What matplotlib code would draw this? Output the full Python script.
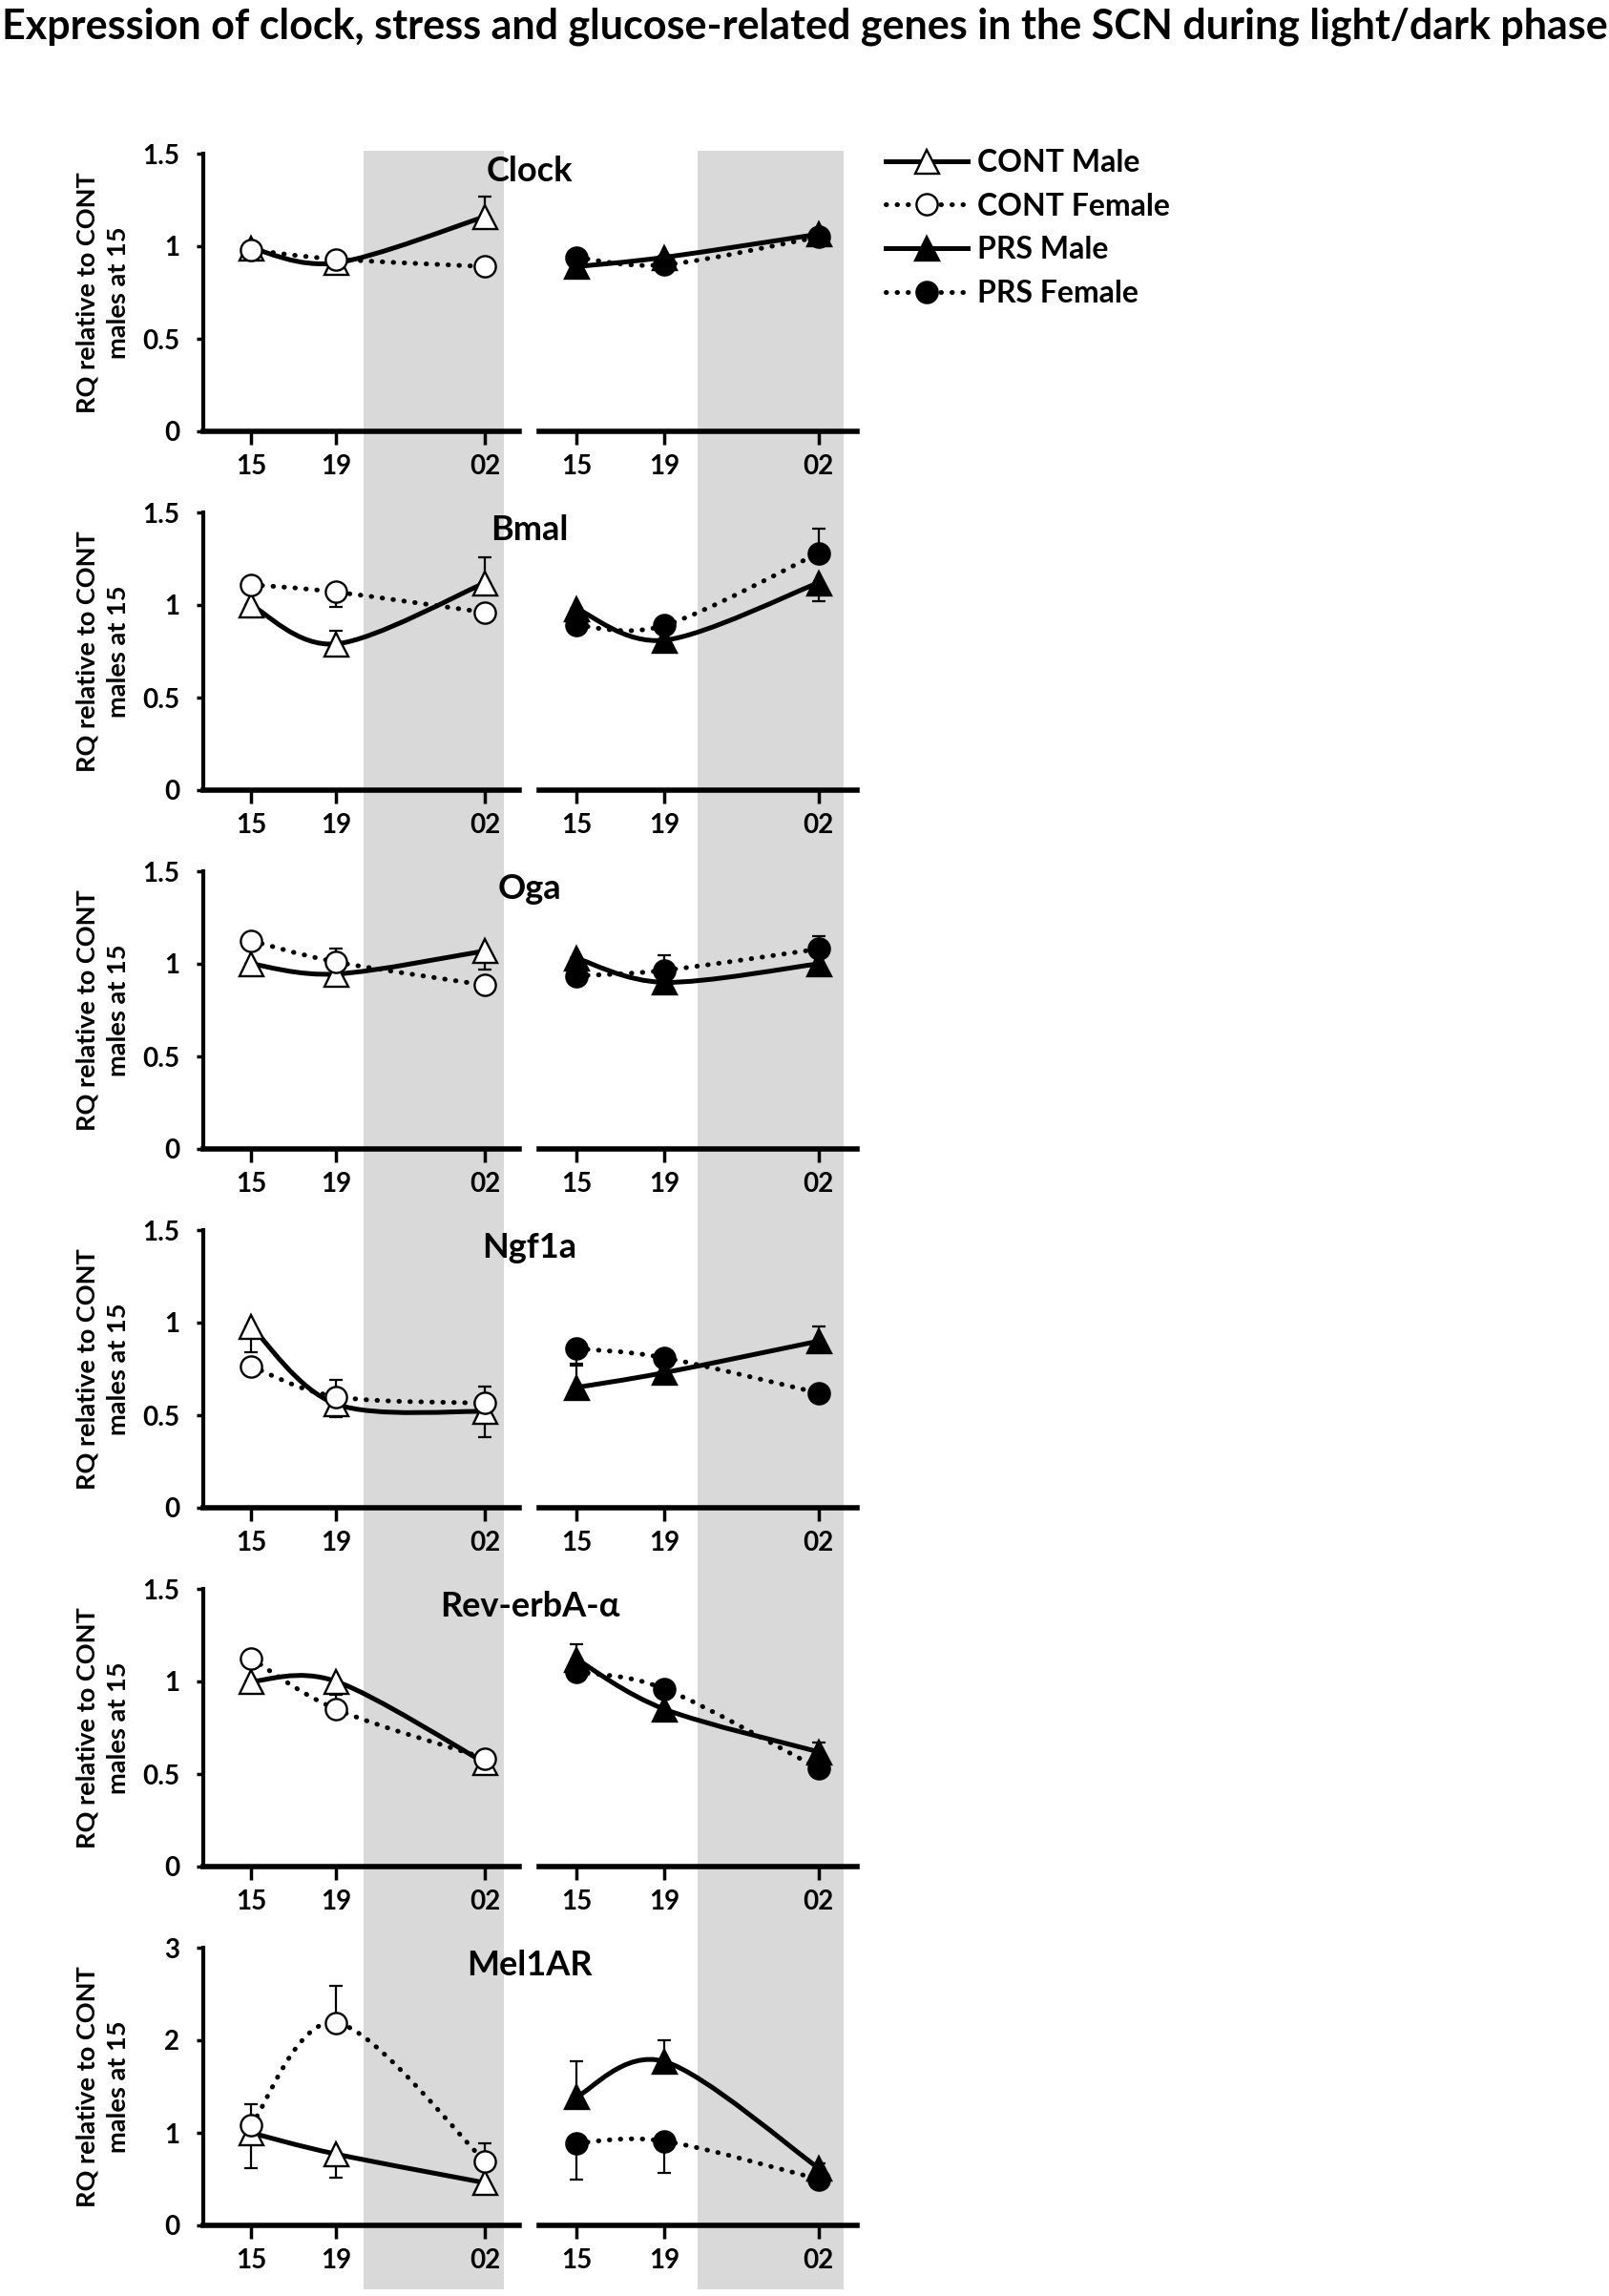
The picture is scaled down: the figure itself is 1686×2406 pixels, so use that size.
import numpy as np
import matplotlib
matplotlib.use("Agg")
import matplotlib.pyplot as plt
from matplotlib.path import Path
from matplotlib.patches import PathPatch, Rectangle
from matplotlib.lines import Line2D
from matplotlib.transforms import blended_transform_factory

# ---- data ----
TIMES = [15, 19, 26]
TIME_LABELS = ["15", "19", "02"]
GENES = ["Clock", "Bmal", "Oga", "Ngf1a", "Rev-erbA-\u03b1", "Mel1AR"]

CONT_MALE = {
    "Clock": [0.99, 0.91, 1.16],
    "Bmal": [1.00, 0.79, 1.12],
    "Oga": [1.00, 0.945, 1.07],
    "Ngf1a": [0.98, 0.56, 0.52],
    "Rev-erbA-\u03b1": [1.00, 1.00, 0.56],
    "Mel1AR": [1.00, 0.77, 0.46],
}
CONT_FEMALE = {
    "Clock": [0.98, 0.93, 0.89],
    "Bmal": [1.11, 1.07, 0.96],
    "Oga": [1.125, 1.01, 0.885],
    "Ngf1a": [0.765, 0.60, 0.565],
    "Rev-erbA-\u03b1": [1.125, 0.85, 0.585],
    "Mel1AR": [1.08, 2.19, 0.69],
}
PRS_MALE = {
    "Clock": [0.89, 0.94, 1.065],
    "Bmal": [0.98, 0.81, 1.12],
    "Oga": [1.03, 0.90, 1.00],
    "Ngf1a": [0.65, 0.73, 0.90],
    "Rev-erbA-\u03b1": [1.12, 0.85, 0.62],
    "Mel1AR": [1.39, 1.77, 0.62],
}
PRS_FEMALE = {
    "Clock": [0.94, 0.90, 1.05],
    "Bmal": [0.89, 0.89, 1.28],
    "Oga": [0.935, 0.965, 1.08],
    "Ngf1a": [0.86, 0.81, 0.62],
    "Rev-erbA-\u03b1": [1.05, 0.96, 0.53],
    "Mel1AR": [0.89, 0.91, 0.50],
}
# one-sided error bars: positive = drawn upward, negative = drawn downward
CONT_MALE_ERR = {
    "Clock": [0, 0, 0.11],
    "Bmal": [0, 0.07, 0.14],
    "Oga": [0, 0, -0.10],
    "Ngf1a": [-0.14, -0.07, -0.14],
    "Rev-erbA-\u03b1": [0, 0, 0],
    "Mel1AR": [-0.38, -0.25, 0],
}
CONT_FEMALE_ERR = {
    "Clock": [0, 0, 0],
    "Bmal": [0, -0.08, -0.05],
    "Oga": [0, 0.07, 0],
    "Ngf1a": [0, 0.09, 0.09],
    "Rev-erbA-\u03b1": [0, 0.08, 0],
    "Mel1AR": [0.23, 0.40, 0.20],
}
PRS_MALE_ERR = {
    "Clock": [0, 0, 0],
    "Bmal": [0, 0, -0.10],
    "Oga": [0, 0, 0],
    "Ngf1a": [0.12, 0, 0.08],
    "Rev-erbA-\u03b1": [0.08, 0, 0.05],
    "Mel1AR": [0.38, 0.23, 0.05],
}
PRS_FEMALE_ERR = {
    "Clock": [0, 0, 0],
    "Bmal": [0, 0, 0.13],
    "Oga": [0, 0.08, 0.07],
    "Ngf1a": [-0.08, 0, 0],
    "Rev-erbA-\u03b1": [0, 0, 0],
    "Mel1AR": [-0.39, -0.34, 0],
}

TITLE = "Expression of clock, stress and glucose-related genes in the SCN during light/dark phase"
YLABEL = "RQ relative to CONT\nmales at 15"
LEGEND_LABELS = ["CONT Male", "CONT Female", "PRS Male", "PRS Female"]
DARK_L = (20.3, 26.9)
DARK_R = (20.5, 27.15)

# ---- layout (pixels of the 1686x2406 canvas) ----
W, H = 1686, 2406
ROW_TOP, ROW_STEP, ROW_H = 161, 376, 291
LX0, LX1 = 213, 544
RX0, RX1 = 565, 898
XLIM_L = (12.75, 27.6)
XLIM_R = (13.3, 27.75)

FONT = "Lato"
LW = 3.6
DOTS = (0, (0.1, 2.2))

STYLES = [
    dict(ls="-", marker="^", mfc="white", ms=18),   # CONT male
    dict(ls=DOTS, marker="o", mfc="white", ms=16),  # CONT female
    dict(ls="-", marker="^", mfc="black", ms=18),   # PRS male
    dict(ls=DOTS, marker="o", mfc="black", ms=16),  # PRS female
]


def smooth_path(xs, ys):
    # Excel-style smoothed line: cubic Bezier through the points
    pts = np.column_stack([xs, ys]).astype(float)
    n = len(pts)
    verts = [pts[0]]
    codes = [Path.MOVETO]
    for i in range(n - 1):
        p0 = pts[max(i - 1, 0)]
        p1 = pts[i]
        p2 = pts[i + 1]
        p3 = pts[min(i + 2, n - 1)]
        verts += [p1 + (p2 - p0) / 6, p2 - (p3 - p1) / 6, p2]
        codes += [Path.CURVE4] * 3
    return Path(verts, codes)


def draw_series(ax, ys, errs, style):
    patch = PathPatch(smooth_path(TIMES, ys), fill=False, edgecolor="black",
                      lw=LW, ls=style["ls"], capstyle="round", zorder=3)
    patch.set_clip_on(False)
    ax.add_patch(patch)
    lo = [-e if e < 0 else 0 for e in errs]
    hi = [e if e > 0 else 0 for e in errs]
    ax.errorbar(TIMES, ys, yerr=[lo, hi], fmt="none", ecolor="black",
                elinewidth=1.6, capsize=5, capthick=1.6, zorder=2, clip_on=False)
    ax.plot(TIMES, ys, ls="none", marker=style["marker"], ms=style["ms"],
            mfc=style["mfc"], mec="black", mew=1.7, zorder=4, clip_on=False)


def style_axis(ax, xlim, ylim, yticks, left):
    ax.set_facecolor("none")
    ax.set_xlim(*xlim)
    ax.set_ylim(*ylim)
    for s in ["top", "right"]:
        ax.spines[s].set_visible(False)
    ax.spines["bottom"].set_linewidth(4)
    ax.spines["left"].set_linewidth(3)
    ax.set_xticks(TIMES)
    ax.set_xticklabels(TIME_LABELS)
    ax.tick_params(axis="x", length=10, width=2.5, pad=7, labelsize=20)
    if left:
        ax.set_yticks(yticks)
        ax.set_yticklabels([f"{t:g}" for t in yticks])
        ax.tick_params(axis="y", length=5, width=2.5, pad=13, labelsize=20)
    else:
        ax.spines["left"].set_visible(False)
        ax.set_yticks([])
    for lab in ax.get_xticklabels() + ax.get_yticklabels():
        lab.set_fontfamily(FONT)
        lab.set_fontweight("bold")


fig = plt.figure(figsize=(W / 100, H / 100), dpi=100)
fig.patch.set_facecolor("white")

fig.text(0.5, 1 - 28 / H, TITLE, ha="center", va="center",
         fontfamily=FONT, fontweight="bold", fontsize=31)

panels = []
for i, gene in enumerate(GENES):
    top = ROW_TOP + i * ROW_STEP
    bottom = 1 - (top + ROW_H) / H
    axL = fig.add_axes([LX0 / W, bottom, (LX1 - LX0) / W, ROW_H / H])
    axR = fig.add_axes([RX0 / W, bottom, (RX1 - RX0) / W, ROW_H / H])
    ymax = 3 if gene == "Mel1AR" else 1.5
    yticks = [0, 1, 2, 3] if gene == "Mel1AR" else [0, 0.5, 1, 1.5]
    style_axis(axL, XLIM_L, (0, ymax), yticks, True)
    style_axis(axR, XLIM_R, (0, ymax), yticks, False)

    draw_series(axL, CONT_MALE[gene], CONT_MALE_ERR[gene], STYLES[0])
    draw_series(axL, CONT_FEMALE[gene], CONT_FEMALE_ERR[gene], STYLES[1])
    draw_series(axR, PRS_MALE[gene], PRS_MALE_ERR[gene], STYLES[2])
    draw_series(axR, PRS_FEMALE[gene], PRS_FEMALE_ERR[gene], STYLES[3])

    fig.text(555 / W, 1 - (top + 18) / H, gene, ha="center", va="center",
             fontfamily=FONT, fontweight="bold", fontsize=26)
    fig.text(108 / W, bottom + ROW_H / H / 2, YLABEL, rotation=90, ha="center",
             va="center", multialignment="center", fontfamily=FONT,
             fontweight="bold", fontsize=19.5, linespacing=1.45)
    panels.append((axL, axR))

# dark-phase shading running down the whole column of panels
band_top, band_bot = 158, 2399
for ax, dark in [(panels[-1][0], DARK_L), (panels[-1][1], DARK_R)]:
    tr = blended_transform_factory(ax.transData, fig.transFigure)
    rect = Rectangle((dark[0], 1 - band_bot / H), dark[1] - dark[0],
                     (band_bot - band_top) / H, transform=tr,
                     facecolor="#d9d9d9", edgecolor="none", zorder=-1)
    fig.add_artist(rect)

handles = [
    Line2D([], [], color="black", lw=LW, ls=s["ls"], marker=s["marker"],
           ms=s["ms"], mfc=s["mfc"], mec="black", mew=1.7,
           dash_capstyle="round")
    for s in STYLES
]
fig.legend(handles, LEGEND_LABELS, loc="upper left",
           bbox_to_anchor=(928 / W, 1 - 156 / H), frameon=False,
           prop=dict(family=FONT, weight="bold", size=23),
           handlelength=2.7, handletextpad=0.3, labelspacing=0.52,
           borderpad=0, borderaxespad=0)

fig.savefig("out.png", dpi=100, facecolor="white")
